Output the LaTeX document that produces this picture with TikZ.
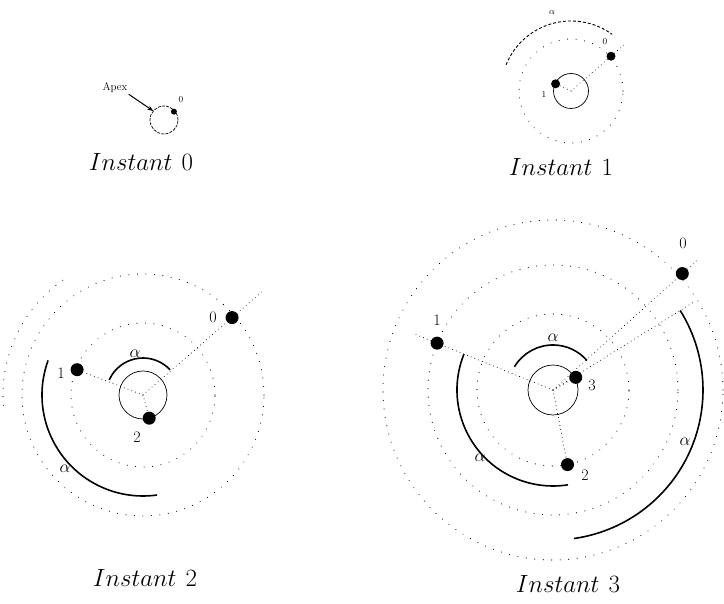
\documentclass[tikz,border=0pt]{standalone}
\usetikzlibrary{arrows.meta}
\begin{document}
\begin{tikzpicture}[x=1pt,y=1pt,
 ring/.style={line width=1.1pt, dash pattern=on 0.01pt off 8.5pt, line cap=round},
 radial/.style={line width=1pt, dash pattern=on 0.01pt off 4pt, line cap=round},
 meri/.style={line width=0.7pt},
 pdot/.style={circle, fill=black, inner sep=0pt, minimum size=13pt},
 sdot/.style={circle, fill=black, inner sep=0pt, minimum size=9pt},
 alphaarc/.style={line width=1.6pt},
 lab/.style={font=\fontsize{16}{16}\selectfont, inner sep=1pt},
 tinylab/.style={font=\fontsize{9}{9}\selectfont, inner sep=0.5pt},
 title/.style={font=\fontsize{30}{33}\selectfont, inner sep=0pt}]
\useasboundingbox (0,0) rectangle (724,604);

% ---------------- Instant 0
\begin{scope}[shift={(164,484)}]
\coordinate (c0) at (0,0);
\draw[meri, dash pattern=on 3pt off 1.2pt] (c0) circle[radius=14];
\coordinate (a0) at (140:14);
\node[font=\fontsize{11}{11}\selectfont, inner sep=1pt] (apex) at (-49,32) {Apex};
\draw[-{Stealth[length=6pt,width=4.5pt]}, line width=1pt] (apex.south east) -- (a0);
\node[circle, fill, inner sep=0pt, minimum size=6pt] (p00) at (40:13) {};
\node[tinylab] (l00) at (17,20) {0};
\end{scope}
\node[title] (t0) at (141,442) {$Instant\ 0$};

% ---------------- Instant 1
\begin{scope}[shift={(571,513)}]
\coordinate (c1) at (0,0);
\draw[ring] (c1) circle[radius=52];
\draw[meri] (c1) circle[radius=17.5];
\node[sdot] (d11) at (155:17) {};
\node[sdot] (d10) at (41:53) {};
\coordinate (e10) at (41:70);
\draw[radial] (c1) -- (d11);
\draw[radial] (c1) -- (d10) -- (e10);
\draw[line width=0.9pt, dash pattern=on 3pt off 2pt] (158:70) arc[start angle=158, end angle=54, radius=70];
\node[tinylab] (l11) at (-27,-4) {1};
\node[tinylab] (l10) at (34,49) {0};
\node[tinylab] (la1) at (-19,78) {$\alpha$};
\end{scope}
\node[title] (t1) at (561,437) {$Instant\ 1$};

% ---------------- Instant 2
\begin{scope}[shift={(143,209)}]
\coordinate (c2) at (0,0);
\draw[ring] (c2) circle[radius=72];
\draw[ring] (c2) circle[radius=121];
\draw[ring] (125:140) arc[start angle=125, end angle=185, radius=140];
\draw[meri] (c2) circle[radius=24];
\node[pdot] (d22) at (-75:24) {};
\node[pdot] (d21) at (159:70.6) {};
\node[pdot] (d20) at (41:118) {};
\coordinate (e20) at (41:160);
\draw[radial] (c2) -- (d22);
\draw[radial] (c2) -- (d21);
\draw[radial] (c2) -- (d20) -- (e20);
\draw[alphaarc] (156:37) arc[start angle=156, end angle=43, radius=37];
\draw[alphaarc] (160:101) arc[start angle=160, end angle=278, radius=101];
\node[lab] (l22) at (-6,-42) {2};
\node[lab] (l21) at (-82,22) {1};
\node[lab] (l20) at (70,78) {0};
\node[lab] (la2s) at (-8,41) {$\alpha$};
\node[lab] (la2b) at (-78,-74) {$\alpha$};
\end{scope}
\node[title] (t2) at (145,26) {$Instant\ 2$};

% ---------------- Instant 3
\begin{scope}[shift={(553,214)}]
\coordinate (c3) at (0,0);
\draw[ring] (c3) circle[radius=76];
\draw[ring] (c3) circle[radius=125];
\draw[ring] (c3) circle[radius=170];
\draw[meri] (c3) circle[radius=25];
\node[pdot] (d33) at (29:26) {};
\node[pdot] (d32) at (-79:76) {};
\node[pdot] (d31) at (158:125) {};
\node[pdot] (d30) at (42:174) {};
\coordinate (e31) at (158:149);
\coordinate (e30) at (42:193);
\coordinate (e3b) at (32:165);
\draw[radial] (c3) -- (d33);
\draw[radial] (c3) -- (d32);
\draw[radial] (c3) -- (d31) -- (e31);
\draw[radial] (c3) -- (d30) -- (e30);
\draw[radial] (c3) -- (e3b);
\draw[alphaarc] (149:45) arc[start angle=149, end angle=41, radius=45];
\draw[alphaarc] (158:96) arc[start angle=158, end angle=279, radius=96];
\draw[alphaarc] (32:150) arc[start angle=32, end angle=-82, radius=150];
\node[lab] (l33) at (39,5) {3};
\node[lab] (l32) at (32,-85) {2};
\node[lab] (l31) at (-116,70) {1};
\node[lab] (l30) at (130,147) {0};
\node[lab] (la3s) at (0,52) {$\alpha$};
\node[lab] (la3l) at (-73,-68) {$\alpha$};
\node[lab] (la3r) at (132,-52) {$\alpha$};
\end{scope}
\node[title] (t3) at (568,20) {$Instant\ 3$};
\end{tikzpicture}
\end{document}
